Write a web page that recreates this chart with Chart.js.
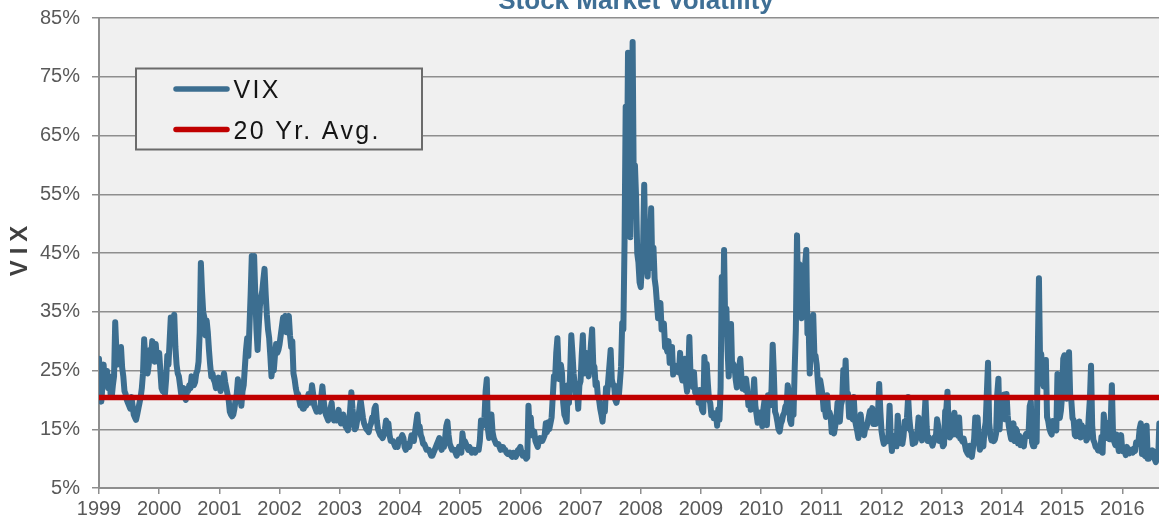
<!DOCTYPE html>
<html>
<head>
<meta charset="utf-8">
<title>Stock Market Volatility</title>
<script src="https://cdn.jsdelivr.net/npm/chart.js@4.4.1/dist/chart.umd.min.js"></script>
<style>
  html, body { margin: 0; padding: 0; background: #fff; }
  #wrap { position: relative; width: 1159px; height: 523px; overflow: hidden; }
</style>
</head>
<body>
<div id="wrap"><canvas id="vixChart"></canvas></div>
<script>
// weekly VIX readings, one array per year label on the axis
const vix1999 = [27.0, 21.7, 19.7, 22.5, 26.0, 22.7, 23.5, 24.9, 22.0, 24.0, 21.0, 20.5, 22.5,
  24.0, 33.2, 28.5, 26.0, 26.5, 27.5, 29.0, 25.5, 24.0, 21.5, 21.0, 20.0, 19.5, 19.0, 18.5, 20.5,
  19.0, 17.5, 17.0, 16.6, 17.5, 18.5, 19.5, 20.5, 22.0, 24.5, 30.3, 27.0, 25.5, 24.5,
  26.0, 28.5, 27.5, 30.0, 28.0, 26.5, 29.5, 27.0, 26.5];
const vix2000 = [28.0, 25.0, 22.0, 21.5, 22.5, 21.0, 23.5, 27.5, 26.0, 30.0, 34.0, 31.0, 32.5,
  34.5, 29.0, 26.0, 24.5, 24.0, 22.5, 21.0, 21.5, 22.0, 20.5, 20.0, 21.5, 21.5,
  22.5, 22.0, 24.0, 22.5, 22.5, 23.0, 24.5, 25.0, 26.5, 31.5, 43.3, 38.5, 35.0,
  34.0, 31.0, 33.5, 31.5, 28.5, 26.0, 24.0, 24.5, 23.5, 23.0, 22.0, 23.5, 23.8];
const vix2001 = [23.0, 21.5, 22.5, 23.5, 24.5, 23.0, 22.0, 21.0, 20.0, 18.0, 17.5, 17.2, 17.5,
  18.5, 20.0, 21.0, 23.5, 21.0, 20.5, 19.0, 21.5, 22.5, 25.5, 28.5, 30.5,
  27.5, 32.5, 38.0, 44.5, 36.0, 44.5, 38.0, 32.0, 28.5, 32.5, 36.0, 37.5, 38.5, 40.5,
  42.3, 38.0, 34.5, 32.0, 30.5, 27.5, 24.0, 26.0, 25.0, 27.5, 29.5, 28.0, 28.5];
const vix2002 = [29.5, 31.0, 32.5, 34.0, 33.0, 34.3, 31.5, 33.0, 34.3, 31.0, 29.0, 30.0,
  24.5, 23.5, 22.0, 21.0, 21.0, 20.0, 19.0, 19.5, 18.5, 18.5, 19.5, 19.0, 20.0,
  21.0, 19.5, 20.5, 22.5, 21.0, 19.0, 18.5, 18.0, 18.5, 18.5, 18.0, 20.5, 22.3,
  20.0, 18.5, 17.5, 17.0, 16.5, 17.5, 18.5, 19.5, 17.0, 16.5, 17.5, 16.5, 17.5, 18.3];
const vix2003 = [16.5, 16.0, 16.2, 17.5, 16.5, 15.5, 15.2, 14.8, 16.0, 18.5, 21.3, 18.5,
  16.5, 15.0, 15.3, 16.5, 17.0, 18.5, 20.0, 18.5, 17.0, 16.0, 15.5, 15.0, 14.8, 14.5,
  15.5, 16.0, 17.0, 16.5, 18.5, 19.0, 16.5, 15.0, 14.5, 14.0, 13.8, 13.5, 14.0,
  15.0, 16.5, 15.5, 16.0, 14.0, 13.0, 13.0, 13.0, 12.5, 12.0, 12.5, 12.0, 13.3];
const vix2004 = [13.3, 13.5, 14.0, 13.5, 12.0, 11.5, 12.0, 12.5, 12.0, 13.0, 14.0, 14.0, 13.0,
  14.5, 16.0, 17.5, 15.0, 15.5, 14.0, 13.5, 12.5, 12.5, 12.0, 11.5, 11.5, 11.5,
  11.0, 10.5, 10.5, 11.0, 11.5, 12.0, 12.5, 13.0, 13.5, 12.0, 11.5, 12.0, 12.0,
  13.5, 15.5, 16.3, 14.0, 12.5, 12.0, 11.5, 11.5, 11.5, 11.0, 10.5, 11.0, 12.0];
const vix2005 = [11.5, 11.0, 14.3, 12.5, 13.0, 12.5, 12.0, 11.5, 12.0, 11.5, 11.0, 11.5,
  11.5, 11.0, 11.5, 11.5, 11.5, 13.0, 16.5, 15.5, 16.0, 17.0, 21.5, 23.5, 15.0,
  13.5, 15.5, 17.5, 14.5, 13.5, 13.0, 12.5, 12.5, 12.5, 12.0, 11.5, 12.0, 12.0, 11.5,
  11.5, 11.0, 10.8, 10.8, 11.0, 10.5, 10.3, 11.0, 10.5, 10.3, 10.8, 11.5, 11.6];
const vix2006 = [12.0, 11.0, 10.5, 11.0, 10.5, 10.0, 10.2, 19.0, 15.0, 17.0, 14.0, 14.5, 14.6,
  13.0, 12.5, 12.0, 13.0, 13.5, 13.0, 13.0, 13.5, 14.0, 16.0, 14.5, 16.2,
  15.0, 16.0, 17.0, 20.5, 24.0, 23.5, 28.0, 30.5, 25.5, 23.5, 26.0, 24.5, 19.5, 17.5,
  17.0, 16.3, 22.5, 19.5, 24.5, 31.0, 28.0, 24.5, 22.5, 20.5, 21.5, 18.5, 22.5];
const vix2007 = [23.2, 27.5, 31.0, 24.5, 26.5, 28.0, 25.0, 24.0, 26.5, 29.5, 32.0, 26.0, 25.6,
  22.5, 23.0, 20.5, 20.0, 18.5, 17.5, 16.3, 18.5, 18.0, 22.0, 21.0, 23.5,
  26.0, 28.5, 23.5, 22.5, 22.5, 20.0, 19.5, 20.5, 20.5, 23.0, 25.7, 33.1, 32.0,
  46.7, 69.9, 55.0, 79.1, 67.0, 47.7, 66.3, 80.9, 55.3, 59.9, 54.3, 44.9, 43.4, 40.0];
const vix2008 = [39.2, 42.8, 46.1, 56.6, 44.8, 43.4, 41.0, 47.5, 46.4, 52.6, 42.4, 45.9, 40.6,
  39.1, 36.5, 33.9, 35.2, 36.5, 32.0, 32.0, 33.0, 29.0, 29.0, 28.2, 30.0, 26.3,
  29.0, 29.0, 24.3, 25.9, 25.4, 24.8, 25.0, 24.7, 28.0, 24.2, 23.3, 25.6,
  27.0, 23.1, 21.4, 24.2, 30.7, 24.2, 22.9, 22.2, 24.7, 21.3, 21.7, 21.7, 19.5, 21.7];
const vix2009 = [19.5, 18.3, 17.9, 27.3, 24.6, 26.1, 22.7, 20.0, 19.5, 17.4, 17.6, 16.9, 17.7,
  17.5, 15.6, 18.4, 16.6, 22.1, 40.9, 31.2, 45.5, 32.1, 35.5, 28.6, 24.0, 28.5, 32.9,
  25.1, 26.1, 25.6, 23.5, 22.1, 24.1, 25.5, 27.0, 23.9, 21.9, 22.0, 21.7, 23.6,
  21.8, 19.1, 20.7, 18.3, 20.6, 20.5, 23.5, 19.0, 17.6, 16.1, 17.6, 17.8];
const vix2010 = [17.6, 15.5, 18.5, 20.0, 16.7, 15.7, 20.8, 19.2, 19.1, 21.9, 29.4, 24.4, 18.0,
  17.4, 16.3, 15.0, 14.6, 15.9, 16.4, 17.4, 17.8, 18.9, 18.9, 22.5, 21.1, 16.5,
  15.9, 19.5, 17.5, 25.3, 32.0, 48.0, 36.4, 43.1, 35.6, 33.9, 38.5, 41.3, 43.0,
  45.5, 31.3, 33.0, 24.5, 30.0, 32.7, 34.5, 27.8, 27.5, 26.0, 23.2, 20.7, 23.4];
const vix2011 = [22.2, 20.9, 18.3, 18.5, 17.1, 20.8, 17.8, 17.9, 17.3, 14.5, 15.0, 14.3, 15.5,
  16.7, 19.5, 17.4, 16.3, 19.2, 19.9, 25.1, 21.8, 26.7, 21.2, 21.1, 17.1, 17.1,
  17.1, 16.7, 20.5, 16.7, 15.6, 14.7, 13.5, 15.2, 17.5, 15.6, 14.5, 14.0, 15.3,
  15.3, 16.1, 17.1, 18.1, 17.6, 18.6, 15.9, 15.9, 15.9, 16.4, 17.8, 22.7, 18.0];
const vix2012 = [14.7, 13.4, 12.5, 12.9, 12.9, 13.0, 14.0, 19.0, 13.5, 11.3, 13.9, 12.7,
  13.9, 12.1, 17.3, 13.6, 12.9, 12.6, 12.5, 13.8, 16.3, 15.1, 17.0, 20.5, 16.9,
  14.9, 14.4, 12.5, 12.7, 12.7, 13.4, 14.4, 17.0, 16.2, 14.2, 13.1, 15.8,
  16.7, 20.3, 15.5, 13.0, 13.6, 12.9, 12.9, 12.2, 12.8, 13.7, 13.8, 16.7, 15.6, 13.0, 13.7];
const vix2013 = [13.4, 12.1, 12.4, 18.1, 18.4, 21.4, 15.3, 13.6, 14.0, 17.4, 14.1, 17.8, 15.0, 14.4,
  13.9, 17.0, 13.4, 13.3, 12.9, 13.4, 12.4, 11.4, 11.0, 10.7, 12.2, 11.3,
  10.3, 11.8, 13.3, 17.0, 15.8, 17.0, 13.2, 11.5, 12.1, 12.3, 12.1, 14.9,
  16.2, 21.2, 26.3, 16.1, 14.0, 13.1, 13.3, 13.0, 13.3, 14.3, 21.1, 23.6, 15.0, 19.2];
const vix2014 = [17.8, 17.6, 20.9, 16.7, 21.0, 17.3, 15.5, 14.3, 13.3, 15.2, 16.0, 13.0, 15.1,
  14.7, 12.6, 13.9, 12.3, 12.9, 12.4, 12.1, 13.8, 14.2, 13.8, 14.0, 18.9,
  19.7, 12.8, 12.1, 12.1, 13.4, 12.8, 28.0, 40.7, 26.1, 27.8, 23.2, 22.3, 23.6, 26.8,
  17.1, 16.4, 15.1, 14.5, 14.1, 16.4, 15.5, 15.1, 14.8, 24.4, 20.7, 16.9, 18.2];
const vix2015 = [20.7, 27.0, 27.6, 22.3, 20.2, 23.4, 28.1, 20.5, 19.8, 16.9, 16.5, 14.0, 13.8, 13.9,
  14.1, 16.3, 13.6, 15.7, 14.7, 14.4, 15.2, 13.1, 13.5, 17.0, 20.1, 25.8, 15.6,
  13.2, 12.7, 12.0, 12.0, 11.4, 12.0, 11.3, 13.7, 11.0, 17.5, 15.4, 13.5,
  13.5, 16.1, 13.3, 16.2, 22.5, 14.2, 12.9, 12.3, 14.1, 12.6, 11.3, 11.4, 14.0];
const vix2016 = [11.3, 11.2, 11.5, 10.6, 12.0, 11.0, 10.9, 11.5, 11.5, 11.0, 11.7, 11.3, 12.8, 12.4,
  12.9, 15.1, 16.0, 10.8, 10.8, 10.6, 10.4, 15.6, 10.0, 10.0, 10.7, 10.4, 11.4,
  11.2, 9.9, 9.4, 10.3, 10.0, 16.0];

const vixByYear = [vix1999, vix2000, vix2001, vix2002, vix2003, vix2004, vix2005, vix2006, vix2007,
  vix2008, vix2009, vix2010, vix2011, vix2012, vix2013, vix2014, vix2015, vix2016];
const firstYear = 1999;
const xEnd = 2016.61;
const weeksPerYear = 52;
const avgValue = 20.4;
const yMin = 5, yMax = 85, yStep = 10;
const titleText = 'Stock Market Volatility';
const yTitle = 'VIX';
const seriesNames = ['VIX', '20 Yr. Avg.'];

const blue = '#3c6e90';
const red = '#c00000';
const gridGray = '#8e8e8e';
const labelGray = '#595959';
const font = '"Liberation Sans", Arial, sans-serif';

const vixPoints = [];
vixByYear.forEach((weeks, k) => {
  weeks.forEach((v, i) => vixPoints.push({ x: firstYear + k + i / weeksPerYear, y: v }));
});
const avgPoints = [{ x: firstYear, y: avgValue }, { x: xEnd, y: avgValue }];

// plot background, title, rotated axis title and boxed legend
const decorations = {
  id: 'decorations',
  beforeDraw(chart) {
    const { ctx, chartArea: a } = chart;
    ctx.save();
    ctx.fillStyle = '#ffffff';
    ctx.fillRect(0, 0, chart.width, chart.height);
    ctx.fillStyle = '#f0f0f0';
    ctx.fillRect(a.left, a.top, a.right - a.left, a.bottom - a.top);
    ctx.restore();
  },
  afterDraw(chart) {
    const { ctx } = chart;
    const sets = chart.data.datasets;

    ctx.save();
    ctx.font = 'bold 26px ' + font;
    ctx.fillStyle = '#3f6f95';
    ctx.textAlign = 'center';
    ctx.textBaseline = 'alphabetic';
    ctx.fillText(titleText, 636, 9);
    ctx.restore();

    ctx.save();
    ctx.translate(27, 251);
    ctx.rotate(-Math.PI / 2);
    ctx.font = 'bold 24px ' + font;
    ctx.letterSpacing = '6px';
    ctx.fillStyle = '#404040';
    ctx.textAlign = 'center';
    ctx.textBaseline = 'alphabetic';
    ctx.fillText(yTitle, 3, 0);
    ctx.restore();

    // legend box
    ctx.save();
    const box = { x: 136, y: 68.5, w: 286, h: 81 };
    ctx.fillStyle = '#f0f0f0';
    ctx.fillRect(box.x, box.y, box.w, box.h);
    ctx.strokeStyle = '#6b6b6b';
    ctx.lineWidth = 2;
    ctx.strokeRect(box.x, box.y, box.w, box.h);
    ctx.font = '25px ' + font;
    ctx.letterSpacing = '2.3px';
    ctx.textBaseline = 'alphabetic';
    ctx.textAlign = 'left';
    const rows = [{ y: 89, base: 97.5 }, { y: 129.5, base: 139 }];
    rows.forEach((r, i) => {
      ctx.beginPath();
      ctx.lineCap = 'round';
      ctx.lineWidth = 5.5;
      ctx.strokeStyle = sets[i].borderColor;
      ctx.moveTo(176, r.y);
      ctx.lineTo(227, r.y);
      ctx.stroke();
      ctx.fillStyle = '#141414';
      ctx.fillText(sets[i].label, 233.5, r.base);
    });
    ctx.restore();
  }
};

new Chart(document.getElementById('vixChart'), {
  type: 'line',
  data: {
    datasets: [
      {
        label: seriesNames[0],
        data: vixPoints,
        borderColor: blue,
        borderWidth: 6,
        borderJoinStyle: 'round',
        borderCapStyle: 'round',
        pointRadius: 0,
        tension: 0,
        order: 1
      },
      {
        label: seriesNames[1],
        data: avgPoints,
        borderColor: red,
        borderWidth: 5.5,
        pointRadius: 0,
        order: 0
      }
    ]
  },
  options: {
    responsive: true,
    maintainAspectRatio: false,
    animation: false,
    layout: { padding: { top: 18, right: 0, bottom: 0, left: 0 } },
    plugins: {
      legend: { display: false },
      tooltip: { enabled: false },
      title: { display: false }
    },
    scales: {
      x: {
        type: 'linear',
        min: firstYear,
        max: xEnd,
        afterFit: s => { s.height = 35; },
        grid: { display: true, drawOnChartArea: false, drawTicks: true, tickLength: 6, color: gridGray, lineWidth: 1.5 },
        border: { display: true, color: gridGray, width: 2 },
        ticks: {
          stepSize: 1,
          includeBounds: false,
          maxRotation: 0,
          autoSkip: false,
          padding: 3,
          color: labelGray,
          font: { family: font, size: 20 },
          callback: v => String(v)
        }
      },
      y: {
        min: yMin,
        max: yMax,
        afterFit: s => { s.width = 99; s.paddingTop = 0; s.paddingBottom = 0; },
        grid: { color: gridGray, lineWidth: 1.5, drawTicks: true, tickLength: 7 },
        border: { display: true, color: gridGray, width: 2 },
        ticks: {
          stepSize: yStep,
          padding: 12,
          color: labelGray,
          font: { family: font, size: 20 },
          callback: v => v + '%'
        }
      }
    }
  },
  plugins: [decorations]
});
</script>
</body>
</html>
